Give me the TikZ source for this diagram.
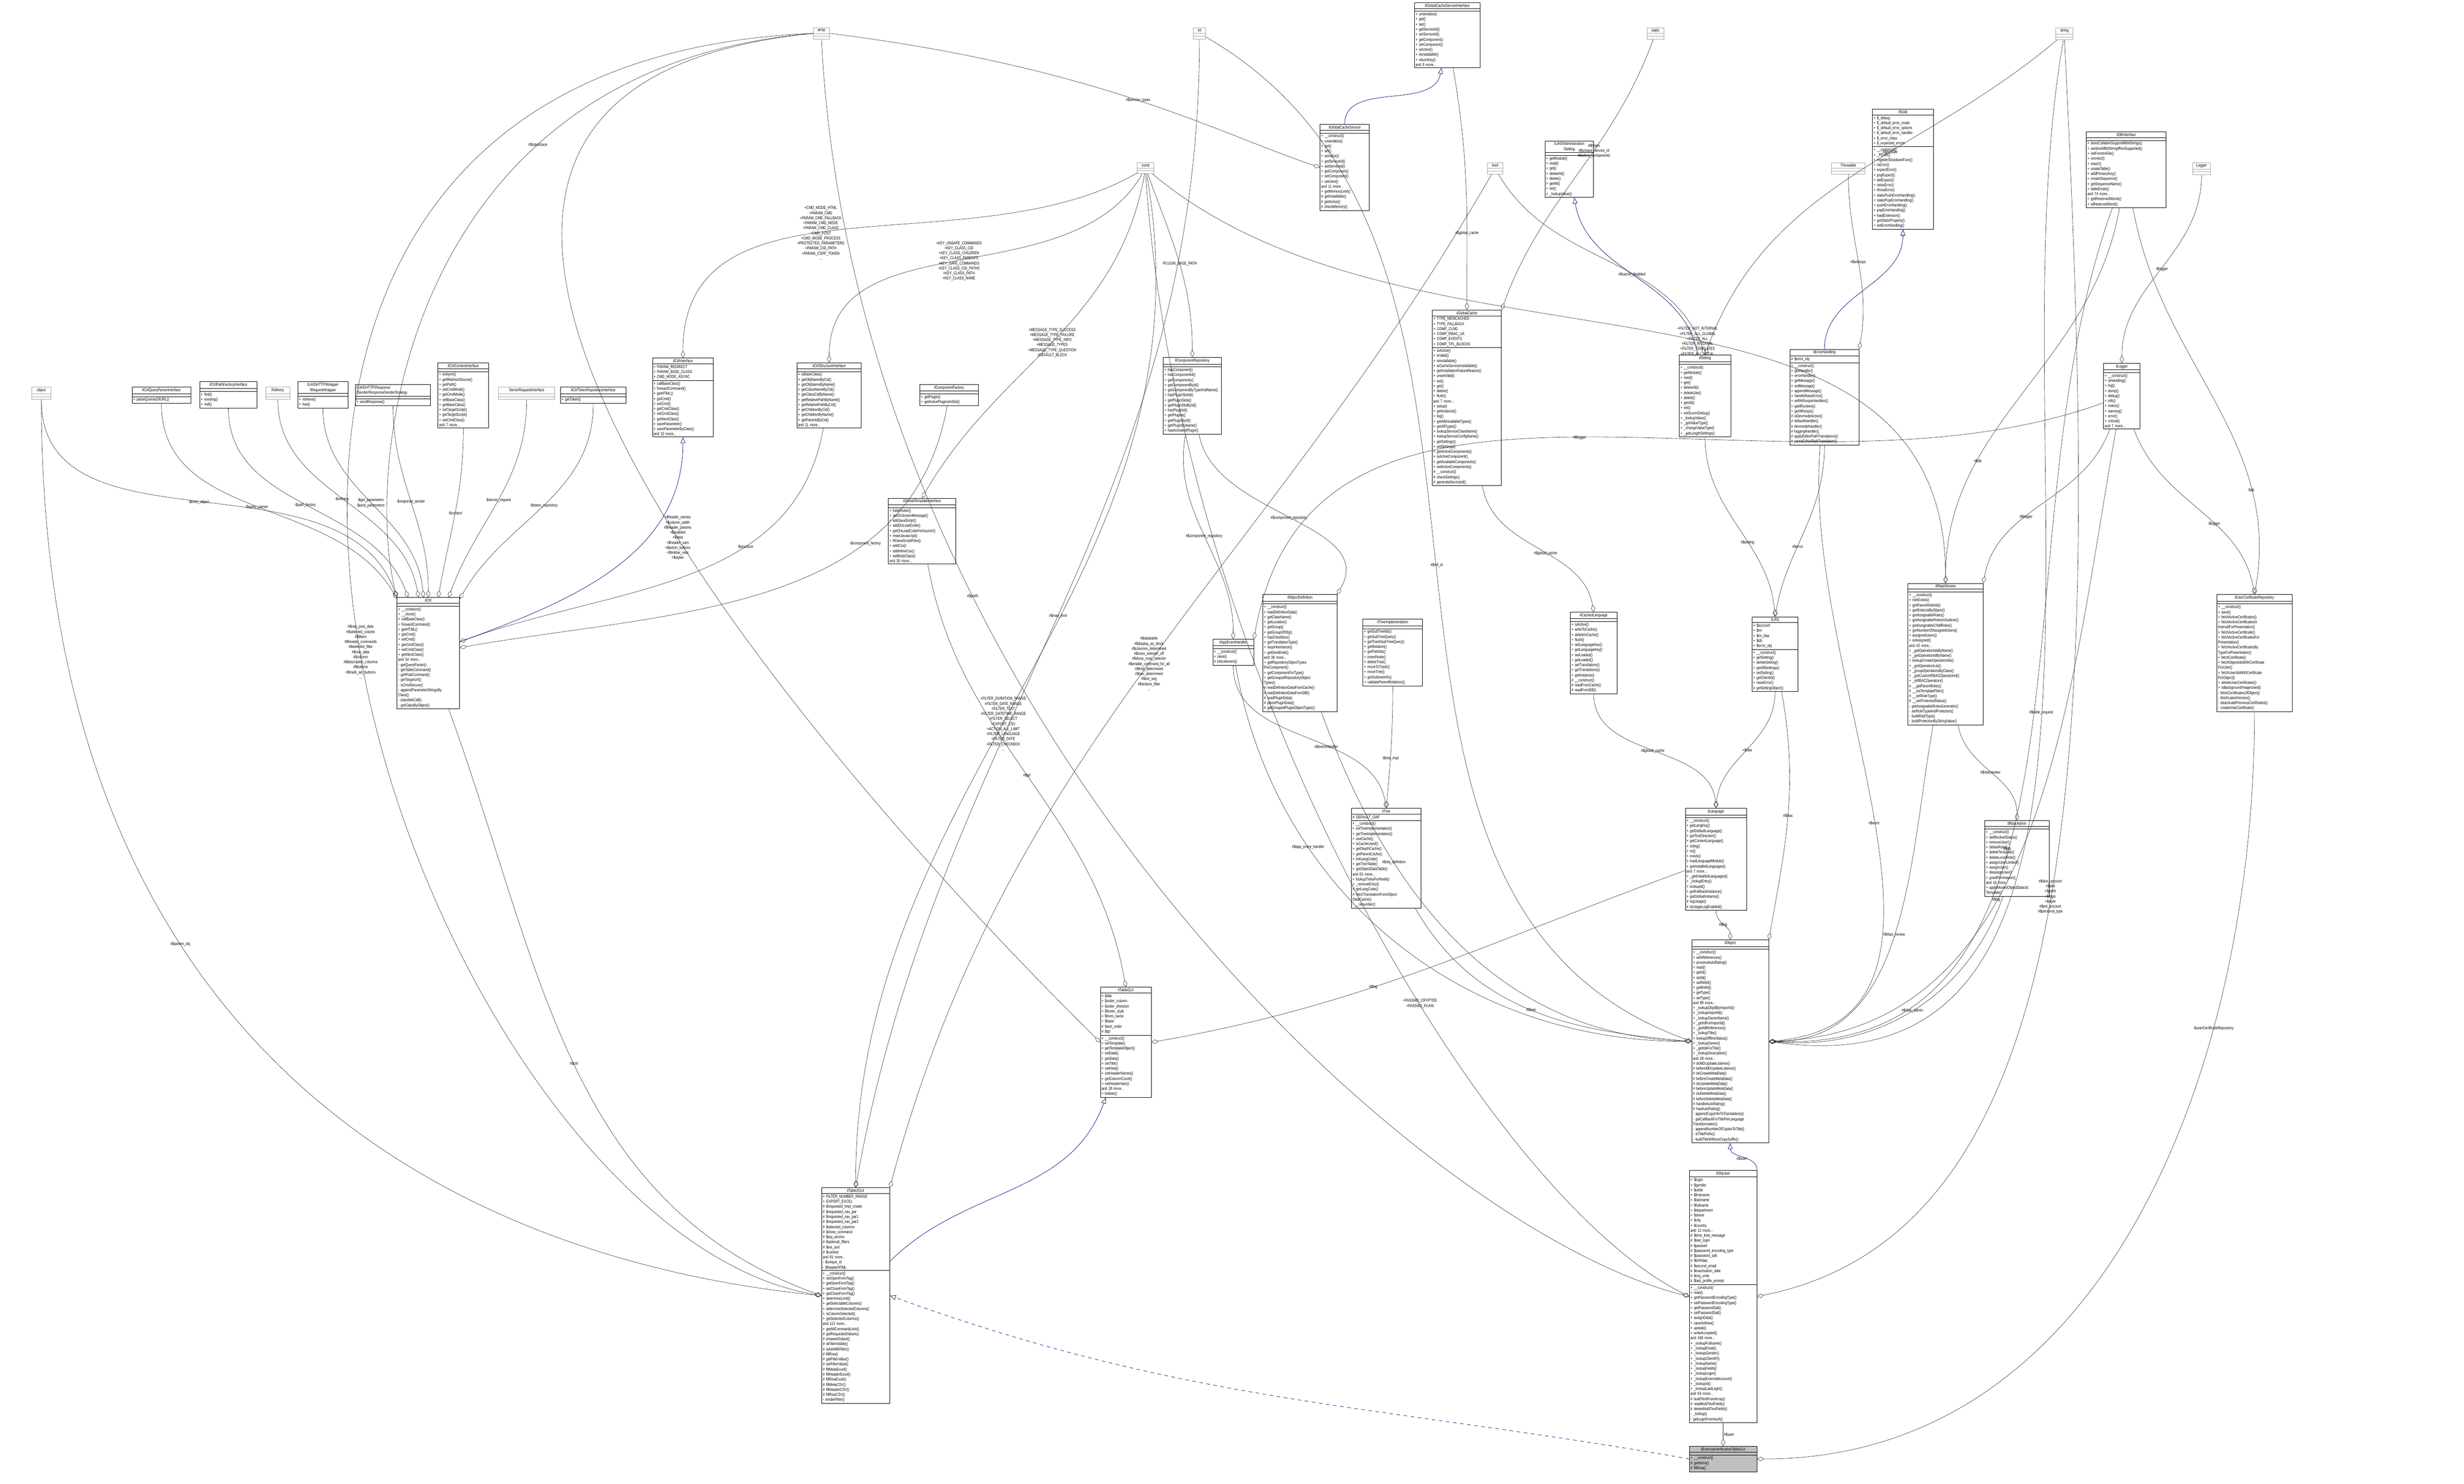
\documentclass[tikz,border=0pt]{standalone}
\usepackage{fontspec}
\setmainfont[FakeStretch=0.8]{Liberation Sans}
\usetikzlibrary{shapes.multipart,arrows.meta}
\newcommand{\ttl}[1]{{\centering #1\par}}
\tikzset{
  umlbox/.style={rectangle split, rectangle split parts=3, draw=black, line width=0.35pt,
    anchor=north west, align=left, inner sep=1pt, fill=white, rectangle split empty part height=4.5pt,
    font=\fontsize{3.5}{4.25}\selectfont},
  leafbox/.style={umlbox, draw=black!35, rectangle split empty part height=6pt},
  agg/.style={draw=black!85, line width=0.25pt, -{Diamond[open,length=6pt,width=3.5pt]}},
  inh/.style={draw=blue!45!black, line width=0.3pt, -{Triangle[open,length=5pt,width=4pt]}},
  lbl/.style={font=\fontsize{3.5}{4.25}\selectfont, align=center, inner sep=0.5pt},
}
\begin{document}
\begin{tikzpicture}
\useasboundingbox (0,0) rectangle (72.83,-43.87);
% leaves
\node[leafbox, text width=0.40cm] (array)  at (24.04,-0.81) {\ttl{array}\nodepart{second}\nodepart{third}};
\node[leafbox, text width=0.30cm] (int)    at (35.26,-0.81) {\ttl{int}\nodepart{second}\nodepart{third}};
\node[leafbox, text width=0.42cm] (const)  at (33.61,-4.80) {\ttl{const}\nodepart{second}\nodepart{third}};
\node[leafbox, text width=0.42cm] (static) at (48.68,-0.81) {\ttl{static}\nodepart{second}\nodepart{third}};
\node[leafbox, text width=0.44cm] (string) at (60.76,-0.81) {\ttl{string}\nodepart{second}\nodepart{third}};
\node[leafbox, text width=0.38cm] (bool)   at (43.96,-4.80) {\ttl{bool}\nodepart{second}\nodepart{third}};
\node[leafbox, text width=0.92cm] (throwable) at (54.13,-4.80) {\ttl{Throwable}\nodepart{second}\nodepart{third}};
\node[leafbox, text width=0.46cm] (logger) at (64.80,-4.80) {\ttl{Logger}\nodepart{second}\nodepart{third}};
\node[leafbox, text width=0.50cm] (object) at (0.93,-11.44) {\ttl{object}\nodepart{second}\nodepart{third}};
\node[leafbox, text width=0.64cm] (refinery) at (7.85,-11.44) {\ttl{Refinery}\nodepart{second}\nodepart{third}};
\node[leafbox, text width=1.59cm] (serverreq) at (14.73,-11.44) {\ttl{ServerRequestInterface}\nodepart{second}\nodepart{third}};
% ilCtrl collaborators
\node[umlbox, text width=1.66cm] (queryparser) at (3.90,-11.44) {\ttl{ilCtrlQueryParserInterface}\nodepart{second}\nodepart{third}+ parseQueriesOfURL()};
\node[umlbox, text width=1.62cm] (pathfactory) at (5.90,-11.28) {\ttl{ilCtrlPathFactoryInterface}\nodepart{second}\nodepart{third}+ find()\\+ existing()\\+ null()};
\node[umlbox, text width=1.41cm] (reqwrapper) at (8.80,-11.28) {\ttl{ILIAS\textbackslash HTTP\textbackslash Wrapper\\\textbackslash RequestWrapper}\nodepart{second}\nodepart{third}+ retrieve()\\+ has()};
\node[umlbox, text width=2.15cm] (respsender) at (10.50,-11.36) {ILIAS\textbackslash HTTP\textbackslash Response\\\textbackslash Sender\textbackslash ResponseSenderStrategy\nodepart{second}\nodepart{third}+ sendResponse()};
\node[umlbox, text width=1.43cm] (ctrlcontext) at (12.94,-10.72) {\ttl{ilCtrlContextInterface}\nodepart{second}\nodepart{third}+ isAsync()\\+ getRedirectSource()\\+ getPath()\\+ setCmdMode()\\+ getCmdMode()\\+ setBaseClass()\\+ getBaseClass()\\+ setTargetScript()\\+ getTargetScript()\\+ setCmdClass()\\and 7 more...};
\node[umlbox, text width=1.87cm] (tokenrepo) at (16.56,-11.44) {\ttl{ilCtrlTokenRepositoryInterface}\nodepart{second}\nodepart{third}+ getToken()};
\node[umlbox, text width=1.73cm] (ctrliface) at (19.28,-10.58) {\ttl{ilCtrlInterface}\nodepart{second}+ PARAM\_REDIRECT\\+ PARAM\_BASE\_CLASS\\+ CMD\_MODE\_ASYNC\nodepart{third}+ callBaseClass()\\+ forwardCommand()\\+ getHTML()\\+ getCmd()\\+ setCmd()\\+ getCmdClass()\\+ setCmdClass()\\+ getNextClass()\\+ saveParameter()\\+ saveParameterByClass()\\and 32 more...};
\node[umlbox, text width=1.83cm] (structiface) at (23.55,-10.72) {\ttl{ilCtrlStructureInterface}\nodepart{second}\nodepart{third}+ isBaseClass()\\+ getObjNameByCid()\\+ getObjNameByName()\\+ getClassNameByCid()\\+ getClassCidByName()\\+ getRelativePathByName()\\+ getRelativePathByCid()\\+ getChildrenByCid()\\+ getChildrenByName()\\+ getParentsByCid()\\and 11 more...};
\node[umlbox, text width=1.66cm] (compfactory) at (27.18,-11.36) {\ttl{ilComponentFactory}\nodepart{second}\nodepart{third}+ getPlugin()\\+ getActivePluginsInSlot()};
\node[umlbox, text width=1.64cm] (comprepo) at (34.38,-10.56) {\ttl{ilComponentRepository}\nodepart{second}\nodepart{third}+ hasComponent()\\+ hasComponentId()\\+ getComponents()\\+ getComponentById()\\+ getComponentByTypeAndName()\\+ hasPluginSlotId()\\+ getPluginSlots()\\+ getPluginSlotById()\\+ hasPluginId()\\+ getPlugins()\\+ getPluginById()\\+ getPluginByName()\\+ hasActivatedPlugin()};
\node[umlbox, text width=1.92cm] (tpliface) at (26.25,-14.72) {\ttl{ilGlobalTemplateInterface}\nodepart{second}\nodepart{third}+ hideFooter()\\+ setOnScreenMessage()\\+ addJavaScript()\\+ addOnLoadCode()\\+ getOnLoadCodeForAsynch()\\+ resetJavascript()\\+ fillJavaScriptFiles()\\+ addCss()\\+ addInlineCss()\\+ setBodyClass()\\and 30 more...};
\node[umlbox, text width=1.78cm] (ctrl) at (11.73,-17.66) {\ttl{ilCtrl}\nodepart{second}\nodepart{third}+ \_\_construct()\\+ \_\_clone()\\+ callBaseClass()\\+ forwardCommand()\\+ getHTML()\\+ getCmd()\\+ setCmd()\\+ getCmdClass()\\+ setCmdClass()\\+ getNextClass()\\and 34 more...\\- getQueryParam()\\- getTableCommand()\\- getPostCommand()\\- getTargetUrl()\\- isCmdSecure()\\- appendParameterStringsBy\\Class()\\- populateCall()\\- getClassByObject()};
% middle row
\node[umlbox, text width=1.14cm] (appevent) at (35.84,-18.89) {\ttl{ilAppEventHandler}\nodepart{second}\nodepart{third}+ \_\_construct()\\+ raise()\\\# initListeners()};
\node[umlbox, text width=2.12cm] (objdef) at (37.32,-17.57) {\ttl{ilObjectDefinition}\nodepart{second}\nodepart{third}+ \_\_construct()\\+ readDefinitionData()\\+ getClassName()\\+ getLocation()\\+ getGroup()\\+ getGroupOfObj()\\+ hasCheckbox()\\+ getTranslationType()\\+ stopInheritance()\\+ getDevMode()\\and 38 more...\\+ getRepositoryObjectTypes\\ForComponent()\\+ getComponentForType()\\+ getGroupedRepositoryObject\\Types()\\\# readDefinitionDataFromCache()\\\# readDefinitionDataFromDB()\\\# readPluginData()\\\# parsePluginData()\\\# getGroupedPluginObjectTypes()};
\node[umlbox, text width=1.69cm] (treeimpl) at (40.28,-18.30) {\ttl{ilTreeImplementation}\nodepart{second}\nodepart{third}+ getSubTreeIds()\\+ getSubTreeQuery()\\+ getTrashSubTreeQuery()\\+ getRelation()\\+ getPathIds()\\+ insertNode()\\+ deleteTree()\\+ moveToTrash()\\+ moveTree()\\+ getSubtreeInfo()\\+ validateParentRelations()};
\node[umlbox, text width=1.31cm] (cachedlng) at (46.41,-18.09) {\ttl{ilCachedLanguage}\nodepart{second}\nodepart{third}+ isActive()\\+ writeToCache()\\+ deleteInCache()\\+ flush()\\+ setLanguageKey()\\+ getLanguageKey()\\+ setLoaded()\\+ getLoaded()\\+ setTranslations()\\+ getTranslations()\\+ getInstance()\\\# \_\_construct()\\\# readFromCache()\\\# readFromDB()};
\node[umlbox, text width=1.29cm] (ilias) at (51.78,-18.23) {\ttl{ILIAS}\nodepart{second}+ \$account\\+ \$ini\\+ \$ini\_ilias\\+ \$db\\+ \$error\_obj\nodepart{third}+ \_\_construct()\\+ getSetting()\\+ deleteSetting()\\+ getAllSettings()\\+ setSetting()\\+ getClientId()\\+ raiseError()\\\# getSettingObject()};
% top right
\node[umlbox, text width=1.87cm] (cachesvciface) at (41.80,-0.07) {\ttl{ilGlobalCacheServiceInterface}\nodepart{second}\nodepart{third}+ unserialize()\\+ get()\\+ set()\\+ getServiceId()\\+ setServiceId()\\+ getComponent()\\+ setComponent()\\+ isActive()\\+ isInstallable()\\+ returnKey()\\and 8 more...};
\node[umlbox, text width=1.39cm] (cachesvc) at (39.01,-3.67) {\ttl{ilGlobalCacheService}\nodepart{second}\nodepart{third}+ \_\_construct()\\+ unserialize()\\+ get()\\+ set()\\+ serialize()\\+ getServiceId()\\+ setServiceId()\\+ getComponent()\\+ setComponent()\\+ isActive()\\and 11 more...\\+ getMemoryLimit()\\\# getInstallable()\\\# getActive()\\\# checkMemory()};
\node[umlbox, text width=1.36cm] (admsetting) at (45.66,-4.16) {\ttl{ILIAS\textbackslash Administration\\\textbackslash Setting}\nodepart{second}\nodepart{third}+ getModule()\\+ read()\\+ get()\\+ deleteAll()\\+ delete()\\+ getAll()\\+ set()\\+ \_lookupValue()};
\node[umlbox, text width=1.73cm] (pear) at (55.34,-3.22) {\ttl{PEAR}\nodepart{second}+ \$\_debug\\+ \$\_default\_error\_mode\\+ \$\_default\_error\_options\\+ \$\_default\_error\_handler\\+ \$\_error\_class\\+ \$\_expected\_errors\nodepart{third}+ \_\_construct()\\+ \_PEAR()\\+ registerShutdownFunc()\\+ isError()\\+ expectError()\\+ popExpect()\\+ delExpect()\\+ raiseError()\\+ throwError()\\+ staticPushErrorHandling()\\+ staticPopErrorHandling()\\+ pushErrorHandling()\\+ popErrorHandling()\\+ loadExtension()\\+ getStaticProperty()\\+ setErrorHandling()};
\node[umlbox, text width=2.29cm] (dbiface) at (61.66,-3.89) {\ttl{ilDBInterface}\nodepart{second}\nodepart{third}+ doesCollationSupportMB4Strings()\\+ sanitizeMB4StringIfNotSupported()\\+ initFromIniFile()\\+ connect()\\+ insert()\\+ createTable()\\+ addPrimaryKey()\\+ createSequence()\\+ getSequenceName()\\+ tableExists()\\and 74 more...\\+ getReservedWords()\\+ isReservedWord()};
\node[umlbox, text width=1.97cm] (globalcache) at (42.33,-9.16) {\ttl{ilGlobalCache}\nodepart{second}+ TYPE\_MEMCACHED\\+ TYPE\_FALLBACK\\+ COMP\_CLNG\\+ COMP\_RBAC\_UA\\+ COMP\_EVENTS\\+ COMP\_TPL\_BLOCKS\nodepart{third}+ isActive()\\+ isValid()\\+ isInstallable()\\+ isCacheServiceInstallable()\\+ getInstallationFailureReason()\\+ unsetValid()\\+ set()\\+ get()\\+ delete()\\+ flush()\\and 7 more...\\+ setup()\\+ getInstance()\\+ log()\\+ getAllInstallableTypes()\\+ getAllTypes()\\+ lookupServiceClassName()\\+ lookupServiceConfigName()\\+ getSettings()\\+ setSettings()\\+ getActiveComponents()\\+ isActiveComponent()\\+ getAvailableComponents()\\+ setActiveComponents()\\\# \_\_construct()\\\# checkSettings()\\\# generateServiceId()};
\node[umlbox, text width=1.45cm] (setting) at (49.63,-10.49) {\ttl{ilSetting}\nodepart{second}\nodepart{third}+ \_\_construct()\\+ getModule()\\+ read()\\+ get()\\+ deleteAll()\\+ deleteLike()\\+ delete()\\+ getAll()\\+ set()\\+ setScormDebug()\\+ \_lookupValue()\\+ \_getValueType()\\+ \_changeValueType()\\+ \_getLengthSettings()};
\node[umlbox, text width=1.97cm] (errhandling) at (52.90,-10.32) {\ttl{ilErrorHandling}\nodepart{second}\# \$error\_obj\nodepart{third}+ \_\_construct()\\+ getHandler()\\+ errorHandler()\\+ getMessage()\\+ setMessage()\\+ appendMessage()\\+ handleRaiseError()\\+ withWhoopsHandlers()\\+ getIlRuntime()\\+ getWhoops()\\\# isDevmodeActive()\\\# defaultHandler()\\\# devmodeHandler()\\\# loggingHandler()\\\# applyEditorPathTranslations()\\\# parseEditorPathTranslation()};
\node[umlbox, text width=1.01cm] (illogger) at (62.17,-10.73) {\ttl{ilLogger}\nodepart{second}\nodepart{third}+ \_\_construct()\\+ isHandling()\\+ log()\\+ dump()\\+ debug()\\+ info()\\+ notice()\\+ warning()\\+ error()\\+ critical()\\and 7 more...};
\node[umlbox, text width=2.15cm] (rbacreview) at (56.39,-17.24) {\ttl{ilRbacReview}\nodepart{second}\nodepart{third}+ \_\_construct()\\+ roleExists()\\+ getParentRoleIds()\\+ getRoleListByObject()\\+ getAssignableRoles()\\+ getAssignableRolesInSubtree()\\+ getAssignableChildRoles()\\+ getNumberOfAssignedUsers()\\+ assignedUsers()\\+ isAssigned()\\and 43 more...\\+ \_getOperationIdsByName()\\+ \_getOperationIdByName()\\+ lookupCreateOperationIds()\\+ \_getOperationList()\\+ \_groupOperationsByClass()\\+ \_getCustomRBACOperationId()\\+ \_isRBACOperation()\\\# \_\_getParentRoles()\\\# \_\_setTemplateFilter()\\\# \_\_setRoleType()\\\# \_\_setProtectedStatus()\\- getAssignableRolesGenerator()\\- setRoleTypeAndProtection()\\- buildRoleType()\\- buildProtectionByStringValue()};
\node[umlbox, text width=2.15cm] (certrepo) at (65.52,-17.57) {\ttl{ilUserCertificateRepository}\nodepart{second}\nodepart{third}+ \_\_construct()\\+ save()\\+ fetchActiveCertificates()\\+ fetchActiveCertificatesIn\\IntervalForPresentation()\\+ fetchActiveCertificate()\\+ fetchActiveCertificatesFor\\Presentation()\\+ fetchActiveCertificatesBy\\TypeForPresentation()\\+ fetchCertificate()\\+ fetchObjectIdsWithCertificate\\ForUser()\\+ fetchUserIdsWithCertificate\\ForObject()\\+ deleteUserCertificates()\\+ isBackgroundImageUsed()\\- fetchCertificatesOfObject()\\- fetchLatestVersion()\\- deactivatePreviousCertificates()\\- createUserCertificate()};
% lower middle
\node[umlbox, text width=1.99cm] (tree) at (39.94,-23.89) {\ttl{ilTree}\nodepart{second}\# DEFAULT\_GAP\nodepart{third}+ \_\_construct()\\+ initTreeImplementation()\\+ getTreeImplementation()\\+ useCache()\\+ isCacheUsed()\\+ getDepthCache()\\+ getParentCache()\\+ initLangCode()\\+ getTreeTable()\\+ getObjectDataTable()\\and 63 more...\\+ lookupTreesForNode()\\+ \_removeEntry()\\\# getLangCode()\\\# fetchTranslationFromObject\\DataCache()\\- \_\_renumber()};
\node[umlbox, text width=1.74cm] (language) at (49.81,-23.89) {\ttl{ilLanguage}\nodepart{second}\nodepart{third}+ \_\_construct()\\+ getLangKey()\\+ getDefaultLanguage()\\+ getTextDirection()\\+ getContentLanguage()\\+ txtlng()\\+ txt()\\+ exists()\\+ loadLanguageModule()\\+ getInstalledLanguages()\\and 7 more...\\+ \_getInstalledLanguages()\\+ \_lookupEntry()\\+ lookupId()\\+ getFallbackInstance()\\+ getGlobalInstance()\\\# logUsage()\\\# isUsageLogEnabled()};
\node[umlbox, text width=1.83cm] (rbacadmin) at (58.66,-24.25) {\ttl{ilRbacAdmin}\nodepart{second}\nodepart{third}+ \_\_construct()\\+ setBlockedStatus()\\+ removeUser()\\+ deleteRole()\\+ deleteTemplate()\\+ deleteLocalRole()\\+ assignUserLimited()\\+ assignUser()\\+ deassignUser()\\+ grantPermission()\\and 16 more...\\+ applyMovedObjectDidactic\\Template()};
\node[umlbox, text width=2.20cm] (ilobject) at (50.00,-27.78) {\ttl{ilObject}\nodepart{second}\nodepart{third}+ \_\_construct()\\+ withReferences()\\+ processAutoRating()\\+ read()\\+ getId()\\+ setId()\\+ setRefId()\\+ getRefId()\\+ getType()\\+ setType()\\and 89 more...\\+ \_lookupObjIdByImportId()\\+ \_lookupImportId()\\+ \_lookupOwnerName()\\+ \_getIdForImportId()\\+ \_getAllReferences()\\+ \_lookupTitle()\\+ lookupOfflineStatus()\\+ \_lookupOwner()\\+ \_getIdsForTitle()\\+ \_lookupDescription()\\and 28 more...\\\# doMDUpdateListener()\\\# beforeMDUpdateListener()\\\# doCreateMetaData()\\\# beforeCreateMetaData()\\\# doUpdateMetaData()\\\# beforeUpdateMetaData()\\\# doDeleteMetaData()\\\# beforeDeleteMetaData()\\\# handleAutoRating()\\\# hasAutoRating()\\- appendCopyInfoToTranslations()\\- getCallbackForTitlePerLanguage\\Transformation()\\- appendNumberOfCopiesToTitle()\\- isTitlePrefix()\\- buildTitleWithoutCopySuffix()};
\node[umlbox, text width=1.92cm] (objuser) at (49.93,-34.59) {\ttl{ilObjUser}\nodepart{second}+ \$login\\+ \$gender\\+ \$utitle\\+ \$firstname\\+ \$lastname\\+ \$fullname\\+ \$department\\+ \$street\\+ \$city\\+ \$country\\and 12 more...\\\# \$time\_limit\_message\\\# \$last\_login\\\# \$passwd\\\# \$password\_encoding\_type\\\# \$password\_salt\\\# \$birthday\\\# \$second\_email\\\# \$inactivation\_date\\\# \$org\_units\\\# \$last\_profile\_prompt\nodepart{third}+ \_\_construct()\\+ read()\\+ getPasswordEncodingType()\\+ setPasswordEncodingType()\\+ getPasswordSalt()\\+ setPasswordSalt()\\+ assignData()\\+ saveAsNew()\\+ update()\\+ writeAccepted()\\and 168 more...\\+ \_lookupFullname()\\+ \_lookupEmail()\\+ \_lookupGender()\\+ \_lookupClientIP()\\+ \_lookupName()\\+ \_lookupFields()\\+ \_lookupLogin()\\+ \_lookupExternalAccount()\\+ \_lookupId()\\+ \_lookupLastLogin()\\and 63 more...\\\# buildTextFromArray()\\\# readMultiTextFields()\\\# deleteMultiTextFields()\\- \_lookup()\\- getLoginFromAuth()};
\node[umlbox, text width=1.92cm, fill=black!25] (exverif) at (49.93,-42.75) {\ttl{ilExerciseVerificationTableGUI}\nodepart{second}\nodepart{third}+ \_\_construct()\\\# getItems()\\\# fillRow()};
\node[umlbox, text width=1.43cm] (tablegui) at (32.52,-29.18) {\ttl{ilTableGUI}\nodepart{second}+ \$title\\+ \$order\_column\\+ \$order\_direction\\+ \$footer\_style\\+ \$form\_name\\+ \$base\\\# \$sort\_order\\\# \$tpl\nodepart{third}+ \_\_construct()\\+ setTemplate()\\+ getTemplateObject()\\+ setData()\\+ getData()\\+ setTitle()\\+ setHelp()\\+ setHeaderNames()\\+ getColumnCount()\\+ setHeaderVars()\\and 28 more...\\+ linkbar()};
\node[umlbox, text width=1.94cm] (table2gui) at (24.28,-35.11) {\ttl{ilTable2GUI}\nodepart{second}+ FILTER\_NUMBER\_RANGE\\+ EXPORT\_EXCEL\\\# \$requested\_tmpl\_create\\\# \$requested\_nav\_par\\\# \$requested\_nav\_par1\\\# \$requested\_nav\_par2\\\# \$selected\_columns\\\# \$close\_command\\\# \$top\_anchor\\\# \$optional\_filters\\\# \$ext\_sort\\\# \$context\\and 81 more...\\- \$unique\_id\\- \$headerHTML\nodepart{third}+ \_\_construct()\\+ setOpenFormTag()\\+ getOpenFormTag()\\+ setCloseFormTag()\\+ getCloseFormTag()\\+ determineLimit()\\+ getSelectableColumns()\\+ determineSelectedColumns()\\+ isColumnSelected()\\+ getSelectedColumns()\\and 113 more...\\+ getAllCommandLimit()\\\# getRequestedValues()\\\# prepareOutput()\\\# isFilterVisible()\\\# isAdvMDFilter()\\\# fillRow()\\\# getFilterValue()\\\# setFilterValue()\\\# fillMetaExcel()\\\# fillHeaderExcel()\\\# fillRowExcel()\\\# fillMetaCSV()\\\# fillHeaderCSV()\\\# fillRowCSV()\\- renderFilter()};
% ilCtrl aggregations
\draw[agg] (object) to[out=-90,in=110] node[lbl]{-\$exec\_object} (ctrl.north west);
\draw[agg] (array.west) .. controls +(-12,-1) and +(-1,4) .. node[lbl,pos=0.3]{\#\$stacktrace} (ctrl.north west);
\draw[agg] (queryparser) to[out=-90,in=120] node[lbl]{-\$query\_parser} (ctrl);
\draw[agg] (pathfactory) to[out=-90,in=110] node[lbl]{-\$path\_factory} (ctrl);
\draw[agg] (refinery) to[out=-90,in=100] node[lbl]{-\$refinery} (ctrl);
\draw[agg] (reqwrapper) to[out=-90,in=95] node[lbl]{-\$get\_parameters\\-\$post\_parameters} (ctrl);
\draw[agg] (respsender) to[out=-90,in=90] node[lbl]{-\$response\_sender} (ctrl);
\draw[agg] (ctrlcontext) to[out=-90,in=80] node[lbl]{-\$context} (ctrl);
\draw[agg] (serverreq) to[out=-90,in=70] node[lbl]{-\$server\_request} (ctrl);
\draw[agg] (tokenrepo) to[out=-90,in=60] node[lbl]{-\$token\_repository} (ctrl);
\draw[agg] (structiface) to[out=-100,in=20] node[lbl,pos=0.35]{-\$structure} (ctrl);
\draw[agg] (compfactory) to[out=-100,in=10] node[lbl,pos=0.3]{-\$component\_factory} (ctrl);
\draw[inh] (ctrl) to[out=20,in=-90] (ctrliface);
% constants
\draw[agg] (const) to[out=-150,in=90] node[lbl,pos=0.55]{+CMD\_MODE\_HTML\\+PARAM\_CMD\\+PARAM\_CMD\_FALLBACK\\+PARAM\_CMD\_MODE\\+PARAM\_CMD\_CLASS\\+CMD\_POST\\+CMD\_MODE\_PROCESS\\+PROTECTED\_PARAMETERS\\+PARAM\_CID\_PATH\\+PARAM\_CSRF\_TOKEN\\...} (ctrliface.north);
\draw[agg] (const) to[out=-120,in=90] node[lbl,pos=0.5]{+KEY\_UNSAFE\_COMMANDS\\+KEY\_CLASS\_CID\\+KEY\_CLASS\_CHILDREN\\+KEY\_CLASS\_PARENTS\\+KEY\_SAFE\_COMMANDS\\+KEY\_CLASS\_CID\_PATHS\\+KEY\_CLASS\_PATH\\+KEY\_CLASS\_NAME} (structiface.north);
\draw[agg] (const) to[out=-100,in=60] node[lbl,pos=0.5]{+MESSAGE\_TYPE\_SUCCESS\\+MESSAGE\_TYPE\_FAILURE\\+MESSAGE\_TYPE\_INFO\\+MESSAGE\_TYPES\\+MESSAGE\_TYPE\_QUESTION\\+DEFAULT\_BLOCK} (tpliface.north);
\draw[agg] (const) to[out=-70,in=90] node[lbl,pos=0.5]{-PLUGIN\_BASE\_PATH} (comprepo.north);
\draw[agg] (const) to[out=-80,in=90] node[lbl,pos=0.55]{+FILTER\_DURATION\_RANGE\\+FILTER\_DATE\_RANGE\\+FILTER\_TEXT\\+FILTER\_DATETIME\_RANGE\\+FILTER\_SELECT\\+EXPORT\_CSV\\+ACTION\_ALL\_LIMIT\\+FILTER\_LANGUAGE\\+FILTER\_DATE\\+FILTER\_CHECKBOX\\...} (table2gui.north);
\draw[agg] (const.south) .. controls +(1,-15) and +(-6,3) .. node[lbl,pos=0.6]{+PASSWD\_CRYPTED\\+PASSWD\_PLAIN} (objuser.west);
\draw[agg] (const) to[out=-40,in=90] node[lbl,pos=0.55]{+FILTER\_NOT\_INTERNAL\\+FILTER\_ALL\_GLOBAL\\+FILTER\_ALL\\+FILTER\_INTERNAL\\+FILTER\_TEMPLATES\\+FILTER\_ALL\_LOCAL} (rbacreview.north);
% tables
\draw[agg] (array.west) .. controls +(-20,-2) and +(-2,2) .. node[lbl,pos=0.5]{+\$header\_names\\+\$column\_width\\\#\$header\_params\\+\$enabled\\+\$data\\+\$header\_vars\\+\$action\_buttons\\+\$linkbar\_vars\\+\$styles} (tablegui.west);
\draw[agg] (array.west) .. controls +(-24,-1) and +(-12,2) .. node[lbl,pos=0.5]{\#\$raw\_post\_data\\\#\$selected\_column\\\#\$filters\\\#\$header\_commands\\\#\$selected\_filter\\\#\$row\_data\\\#\$column\\\#\$description\_columns\\\#\$buttons\\\#\$multi\_sel\_buttons\\...} (table2gui.west);
\draw[agg] (object.south) .. controls +(0,-20) and +(-10,1) .. node[lbl,pos=0.35]{\#\$parent\_obj} (table2gui.west);
\draw[agg] (bool) to[out=-120,in=75] node[lbl,pos=0.5]{\#\$datatable\\\#\$display\_as\_block\\\#\$columns\_determined\\\#\$rows\_selector\_off\\\#\$show\_rows\_selector\\\#\$enable\_command\_for\_all\\\#\$limit\_determined\\\#\$nav\_determined\\\#\$ext\_seg\\\#\$restore\_filter\\...} (table2gui.north east);
\draw[agg] (ctrl) to[out=-70,in=160] node[lbl,pos=0.5]{\#\$ctrl} (table2gui.west);
\draw[agg] (tpliface) to[out=-80,in=100] node[lbl,pos=0.5]{\#\$tpl} (tablegui.north);
\draw[agg] (language) to[out=200,in=10] node[lbl,pos=0.6]{\#\$lng} (tablegui.east);
\draw[agg] (int) to[out=-90,in=80] node[lbl,pos=0.5]{\#\$max\_limit} (table2gui.north);
\draw[inh] (table2gui) to[out=45,in=-110] (tablegui);
\draw[inh, dashed] (exverif.west) to[out=170,in=-20] (table2gui.east);
% ilObject
\draw[agg] (tree) to[out=-60,in=175] node[lbl,pos=0.5]{\#\$tree} (ilobject.west);
\draw[agg] (language) to[out=-90,in=90] node[lbl]{\#\$lng} (ilobject.north);
\draw[agg] (appevent) to[out=-80,in=180] node[lbl,pos=0.3]{\#\$app\_event\_handler} (ilobject.west);
\draw[agg] (objdef) to[out=-70,in=178] node[lbl,pos=0.3]{\#\$obj\_definition} (ilobject.west);
\draw[agg] (ilias) to[out=-80,in=80] node[lbl,pos=0.5]{\#\$ilias} (ilobject.north east);
\draw[agg] (errhandling) to[out=-95,in=5] node[lbl,pos=0.5]{\#\$error} (ilobject.east);
\draw[agg] (rbacreview) to[out=-100,in=0] node[lbl,pos=0.5]{\#\$rbac\_review} (ilobject.east);
\draw[agg] (rbacadmin) to[out=-110,in=-5] node[lbl,pos=0.5]{\#\$rbac\_admin} (ilobject.east);
\draw[agg] (dbiface) to[out=-110,in=-2] node[lbl,pos=0.6]{\#\$db} (ilobject.east);
\draw[agg] (illogger) to[out=-100,in=2] node[lbl,pos=0.6]{\#\$log} (ilobject.east);
\draw[agg] (string) to[out=-100,in=-8] node[lbl,pos=0.5]{\#\$table\_request} (ilobject.east);
\draw[inh] (objuser.north east) to[out=90,in=-90] node[lbl,left,pos=0.4]{\#\$user} (ilobject.south);
\draw[agg] (objuser) to[out=-90,in=90] node[lbl,right]{\#\$user} (exverif);
\draw[agg] (certrepo) to[out=-90,in=0] node[lbl,pos=0.3]{-\$userCertificateRepository} (exverif.east);
\draw[agg] (string.south) .. controls +(1,-20) and +(10,2) .. node[lbl,pos=0.5]{\#\$skin\_account\\+\$skin\\+\$prefs\\+\$login\\+\$style\\\#\$ext\_account\\\#\$personal\_type} (objuser.east);
\draw[agg] (array.south) .. controls +(1,-20) and +(-8,2) .. node[lbl,pos=0.3]{\#\$prefs} (objuser.west);
% upper right
\draw[inh] (cachesvc) to[out=90,in=-100] (cachesvciface);
\draw[inh] (setting) to[out=100,in=-80] (admsetting);
\draw[inh] (errhandling) to[out=90,in=-90] (pear);
\draw[agg] (throwable) to[out=-90,in=80] node[lbl]{\#\$whoops} (errhandling.north east);
\draw[agg] (cachesvciface) to[out=-80,in=90] node[lbl,pos=0.7]{\#\$global\_cache} (globalcache.north);
\draw[agg] (static) to[out=-110,in=70] node[lbl,pos=0.4]{\#\$types\\\#\$unique\_service\_id\\\#\$active\_components} (globalcache.north east);
\draw[agg] (string) to[out=-140,in=70] node[lbl,pos=0.4]{\#\$module} (setting.north);
\draw[agg] (bool) to[out=-60,in=110] node[lbl,pos=0.6]{\#\$cache\_disabled} (setting.north);
\draw[agg] (globalcache) to[out=-80,in=100] node[lbl,pos=0.55]{\#\$global\_cache} (cachedlng.north);
\draw[agg] (cachedlng) to[out=-90,in=95] node[lbl,pos=0.5]{\#\$global\_cache} (language.north);
\draw[agg] (ilias) to[out=-90,in=85] node[lbl,pos=0.5]{+\$ilias} (language.north);
\draw[agg] (setting) to[out=-90,in=95] node[lbl,pos=0.6]{\#\$setting} (ilias.north);
\draw[agg] (errhandling) to[out=-90,in=80] node[lbl,pos=0.6]{\#\$error} (ilias.north);
\draw[agg] (illogger) to[out=-110,in=80] node[lbl,pos=0.6]{\#\$logger} (rbacreview.north east);
\draw[agg] (dbiface) to[out=-100,in=90] node[lbl,pos=0.7]{\#\$db} (rbacreview.north);
\draw[agg] (illogger) to[out=-70,in=100] node[lbl,pos=0.6]{-\$logger} (certrepo.north);
\draw[agg] (dbiface) to[out=-80,in=80] node[lbl,pos=0.75]{-\$db} (certrepo.north);
\draw[agg] (rbacreview) to[out=-80,in=90] node[lbl,pos=0.5]{\#\$rbacreview} (rbacadmin.north);
\draw[agg] (treeimpl) to[out=-90,in=85] node[lbl,pos=0.6]{-\$tree\_impl} (tree.north);
\draw[agg] (appevent) to[out=-90,in=100] node[lbl,pos=0.6]{\#\$eventHandler} (tree.north);
\draw[agg] (comprepo) to[out=-80,in=60] node[lbl,pos=0.5]{\#\$component\_repository} (objdef.north east);
\draw[agg] (comprepo) to[out=-100,in=90] node[lbl,pos=0.5]{\#\$component\_repository} (appevent.north);
\draw[agg] (illogger) to[out=-160,in=80] node[lbl,pos=0.5]{\#\$logger} (appevent.north east);
\draw[agg] (array.east) .. controls +(8,-1) and +(-3,1) .. node[lbl,pos=0.5]{\#\$service\_types} (cachesvc.west);
\draw[agg] (logger) to[out=-90,in=90] node[lbl,pos=0.5]{-\$logger} (illogger.north);
\draw[agg] (int) to[out=-30,in=160] node[lbl,pos=0.5]{\#\$ref\_id} (ilobject.west);
\end{tikzpicture}
\end{document}
